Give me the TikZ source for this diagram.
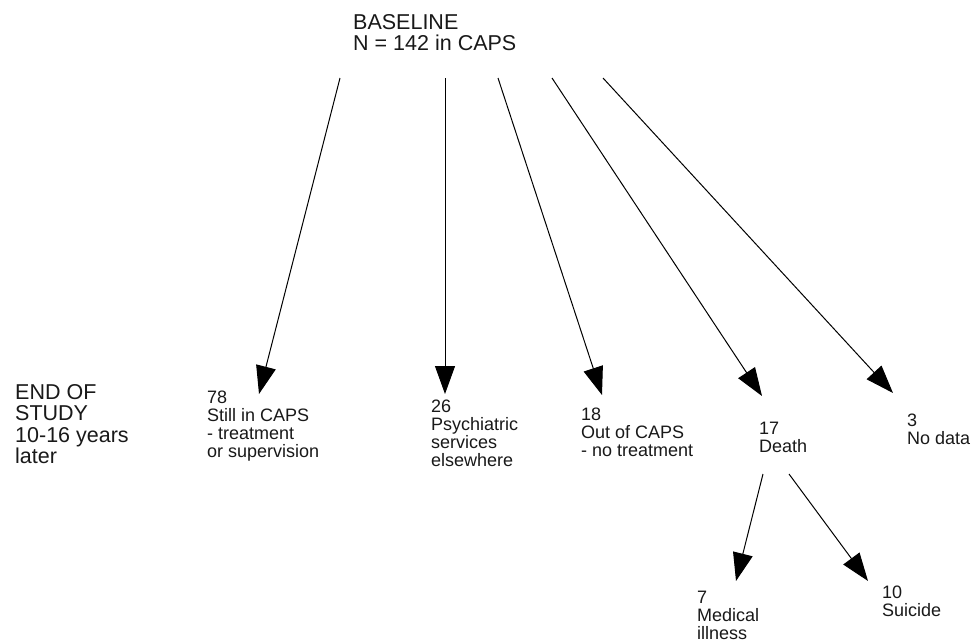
\documentclass[tikz,border=0pt]{standalone}
\usepackage{fontspec}
\setmainfont{Liberation Sans}
\usetikzlibrary{arrows.meta}
\begin{document}
\begin{tikzpicture}[x=1pt,y=-1pt,
  big/.style={anchor=north west, inner sep=0pt, align=left, text=black!90, font=\fontsize{21.5}{21.5}\selectfont},
  small/.style={anchor=north west, inner sep=0pt, align=left, text=black!90, font=\fontsize{18}{18}\selectfont},
  arr/.style={line width=1pt, -{Triangle[length=28pt,width=20pt]}}]
\useasboundingbox[fill=white] (0,0) rectangle (972,643);

\node[big] (base) at (353,14) {BASELINE\\N = 142 in CAPS};
\node[big] (end) at (15,384) {END OF\\STUDY\\10-16 years\\later};

\node[small] (n78) at (207,391) {78\\Still in CAPS\\- treatment\\or supervision};
\node[small] (n26) at (431,400) {26\\Psychiatric\\services\\elsewhere};
\node[small] (n18) at (581,408) {18\\Out of CAPS\\- no treatment};
\node[small] (n17) at (759,422) {17\\Death};
\node[small] (n3) at (907,414) {3\\No data};
\node[small] (n7) at (697,591) {7\\Medical\\illness};
\node[small] (n10) at (882,586) {10\\Suicide};

\coordinate (s1) at (340,78);
\coordinate (s2) at (445,78);
\coordinate (s3) at (498,78);
\coordinate (s4) at (552,78);
\coordinate (s5) at (603,78);
\coordinate (t1) at (259,394);
\coordinate (t2) at (445,394);
\coordinate (t3) at (602,395);
\coordinate (t4) at (762,396);
\coordinate (t5) at (893,393);
\coordinate (d1) at (763,474);
\coordinate (d2) at (789,474);
\coordinate (t7) at (736,581);
\coordinate (t10) at (868,581);

\draw[arr] (s1) -- (t1);
\draw[arr] (s2) -- (t2);
\draw[arr] (s3) -- (t3);
\draw[arr] (s4) -- (t4);
\draw[arr] (s5) -- (t5);
\draw[arr] (d1) -- (t7);
\draw[arr] (d2) -- (t10);
\end{tikzpicture}
\end{document}
